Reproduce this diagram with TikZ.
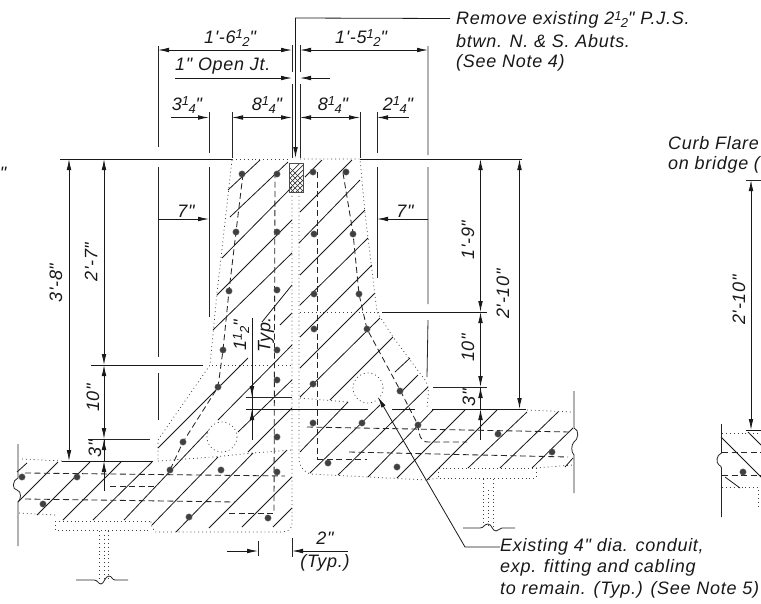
\documentclass[tikz,border=0pt]{standalone}
\usepackage{fontspec}
\usetikzlibrary{arrows.meta}
\newfontfamily\dfont{Liberation Sans}[LetterSpace=4]
\newcommand{\fr}[2]{{\fontsize{13}{13}\selectfont\raisebox{4.2pt}{#1}\hspace{-0.6pt}\raisebox{-3pt}{#2}}}
\tikzset{
  ar/.tip={Latex[length=11pt,width=4.6pt]},
  lab/.style={font=\dfont\itshape\fontsize{18}{18}\selectfont,inner sep=0pt,text=black!90},
  note/.style={lab,anchor=west},
  solid line/.style={line width=0.9pt,black!90},
  thin line/.style={line width=0.8pt,black!85},
  hatch/.style={line width=0.8pt,black!90},
  dotline/.style={line width=0.75pt,black!75,dash pattern=on 0.9pt off 3pt},
  dashline/.style={line width=0.85pt,black!85,dash pattern=on 6pt off 3.5pt},
  rebar/.style={fill=black!75,draw=black!60,line width=0.4pt},
  dimline/.style={line width=0.8pt,black!90},
}
\begin{document}
\begin{tikzpicture}[x=1pt,y=-1pt]
\clip (0,0) rectangle (761,603);
\fill[white] (0,0) rectangle (761,603);

% hatch lines, left and main section
\foreach \a/\b/\c/\d in {
 17/472/27/463, 18/502/58/462, 37/515/90/462, 63/520/121/462, 93/520/152/462,
 124/520/211/428, 218/420/292/345, 152/525/218/457, 238/432/292/380,
 176/532/253/453, 248/452/292/408, 209/528/287/450, 242/527/292/477, 273/527/292/508,
 228/190/260/160, 230/217/288/162, 222/258/292/187, 217/295/292/220, 213/330/292/253,
 262/322/292/285, 280/325/292/313, 158/448/248/358,
 305/177/322/160, 300/212/352/160, 299/243/360/180, 300/275/365/210, 300/305/368/238,
 300/337/372/265, 300/368/375/293, 300/397/380/318, 330/400/393/337,
 300/452/348/402, 395/372/410/358, 310/473/380/405, 400/393/418/375, 338/475/428/387,
 368/477/433/410, 397/478/465/410, 427/480/497/410, 468/468/527/412, 500/468/558/412,
 532/468/573/428, 565/467/573/458,
 748/432/761/445, 721/437/761/477, 725/477/740/488}
 {\draw[hatch] (\a,\b) -- (\c,\d);}

% crosshatch at joint
\begin{scope}
\clip (289,163) rectangle (303,192);
\foreach \k in {0,5,...,60}{
  \draw[line width=0.7pt,black!80] (275,163+\k-10) -- (310,163+\k+25);
  \draw[line width=0.7pt,black!80] (310,163+\k-10) -- (275,163+\k+25);
}
\end{scope}
\draw[line width=0.6pt,black!70] (289,163) rectangle (303,192);

% dotted concrete outlines
\draw[dotline] (232,160) -- (217,293) -- (210,365) -- (158,440) -- (158,459);
\draw[dotline] (22,459) -- (62,461);
\draw[dotline] (158,461) -- (213,457) -- (253,453) -- (292,450);
\draw[dotline] (232,159) -- (288,159);
\draw[dotline] (292,192) -- (292,523) .. controls (292,530) and (287,532) .. (280,532) -- (155,532) -- (151,525) -- (151,520);
\draw[dotline] (299,192) -- (299,460) .. controls (300,468) and (305,472) .. (310,474) -- (427,480) -- (438,478);
\draw[dotline] (212,365) -- (292,365);
\draw[dotline] (300,159) -- (360,159) -- (365,213) -- (377,312) -- (393,337) -- (425,380) .. controls (429,386) and (429,390) .. (427,408);
\draw[dotline] (300,398) -- (348,402);
\draw[dotline] (300,312) -- (382,312);
\draw[dotline] (527,410) -- (573,412);
\draw[dotline] (19,513) -- (55,515);
\draw[dotline] (55,521) -- (151,521);
\draw[dotline] (55,521) -- (55,530) -- (151,530);
\draw[dotline] (99,531) -- (99,580);
\draw[dotline] (108,531) -- (108,580);
\draw[dotline] (104,535) -- (104,578);
\draw[dotline] (438,468) -- (438,478) -- (536,478) -- (536,468) -- cycle;
\draw[dotline] (536,468) -- (573,465);
\draw[dotline] (483,479) -- (483,528);
\draw[dotline] (493,479) -- (493,528);
\draw[dotline] (488,490) -- (488,526);
\draw[dotline] (722,433) -- (761,433);
\draw[dotline] (722,487) -- (761,487);
\draw[dotline] (758,490) -- (758,506);

% conduits
\fill[white] (222,437) circle (15);
\draw[dotline] (222,437) circle (15);
\fill[white] (368,388) circle (15);
\draw[dotline] (368,388) circle (15);

% dashed bars
\foreach \a/\b/\c/\d in {
 25/473/285/476, 25/499/235/502, 110/486/157/486, 229/513/273/513, 307/427/570/432, 349/452/568/457,
 317/459/367/459, 722/452/761/452, 722/475/761/475}
 {\draw[dashline] (\a,\b) -- (\c,\d);}
\draw[dashline] (275,172) -- (274,513);
\draw[dashline] (317,172) -- (317,459);
\draw[dashline] (243,174) -- (236,232) -- (229,291) -- (223,350) -- (218,387) -- (183,442) -- (170,470);
\draw[dashline] (343,173) -- (353,233) -- (359,294) -- (367,329) -- (400,390) -- (418,425) .. controls (419,436) and (421,442) .. (428,442) -- (467,442);

% rebars
\foreach \a/\b in {242/174,277/174,313/172,346/172,236/232,277/232,314/234,353/234,
 229/291,277/290,314/294,359/294,223/350,277/350,314/329,367/329,218/387,183/442,170/470,
 221/470,277/380,277/437,277/472,268/518,189/517,77/477,22/477,43/504,313/384,313/423,
 362/423,400/391,418/425,328/463,397/467,498/434,552/452,743/472}
 {\filldraw[rebar] (\a,\b) circle (3.2);}

% ground lines
\draw[solid line] (60,159) -- (232,159);
\draw[solid line] (360,159) -- (522,159);
\draw[solid line] (62,461) -- (153,461);
\draw[solid line] (432,409) -- (526,409);
\draw[solid line] (280,409) -- (368,409);
\draw[solid line] (392,409) -- (415,409);
\draw[solid line] (246,409) -- (300,409);
\draw[thin line] (246,397) -- (292,397);
\draw[solid line] (91,365) -- (203,365);
\draw[solid line] (382,312) -- (487,312);
\draw[thin line] (88,439) -- (150,439);
\draw[thin line] (433,387) -- (487,387);

% extension lines
\draw[thin line] (158,46) -- (158,147) (158,167) -- (158,357) (158,373) -- (158,420);
\draw[thin line] (428,46) -- (428,155) (428,167) -- (428,304) (428,320) -- (427,377);
\draw[thin line] (292,45) -- (292,72) (292,84) -- (292,158);
\draw[thin line] (300,45) -- (300,72) (300,84) -- (300,158);
\draw[thin line] (209,112) -- (209,153) (209,167) -- (209,317);
\draw[thin line] (232,112) -- (232,158);
\draw[thin line] (360,112) -- (360,158);
\draw[thin line] (377,112) -- (377,153) (377,167) -- (377,278);

% horizontal dimensions
\draw[dimline,ar-ar] (158,50) -- (292,50);
\draw[dimline,ar-ar] (300,50) -- (428,50);
\draw[dimline,-ar] (175,78) -- (292,78);
\draw[dimline,-ar] (330,78) -- (300,78);
\draw[dimline,-ar] (171,117.5) -- (209,117.5);
\draw[dimline,ar-ar] (232,117.5) -- (292,117.5);
\draw[dimline,ar-ar] (300,117.5) -- (360,117.5);
\draw[dimline,-ar] (409,117.5) -- (377,117.5);
\draw[dimline,-ar] (158,219) -- (209,219);
\draw[dimline,-ar] (428,219) -- (377,219);
\draw[dimline,-ar] (227,551) -- (258,551);
\draw[dimline,-ar] (348,551) -- (292,551);
\draw[thin line] (258,541) -- (258,556);
\draw[thin line] (292,538) -- (292,557);

% vertical dimensions
\draw[dimline,ar-ar] (69,159) -- (69,461);
\draw[dimline,ar-ar] (104,159) -- (104,365);
\draw[dimline,ar-ar] (104,365) -- (104,439);
\draw[dimline,-ar] (104,491) -- (104,461);
\draw[dimline] (104,439) -- (104,461);
\draw[dimline,-ar] (104,452) -- (104,439);
\draw[dimline,ar-ar] (480.5,159) -- (480.5,312);
\draw[dimline,ar-ar] (480.5,312) -- (480.5,387);
\draw[dimline] (480.5,387) -- (480.5,409);
\draw[dimline,-ar] (480.5,400) -- (480.5,387);
\draw[dimline,-ar] (480.5,440) -- (480.5,409);
\draw[dimline,ar-ar] (519.5,159) -- (519.5,409);
\draw[dimline] (252,318) -- (252,440);
\draw[dimline,-ar] (252,380) -- (252,397);
\draw[dimline,-ar] (252,426) -- (252,409);
\draw[thin line] (746,180) -- (761,180);
\draw[dimline,ar-ar] (751,180) -- (751,430);
\draw[solid line] (746,430) -- (761,430);

% breaks
\draw[thin line] (18,444) -- (18,478) .. controls (12,480) and (12,490) .. (17,490) .. controls (22,491) and (21,500) .. (18,502) -- (18,546);
\draw[thin line] (76,580) -- (94,580) .. controls (98,580) and (98,584) .. (101,584) .. controls (104,584) and (105,576) .. (109,576) .. controls (112,576) and (112,580) .. (115,580) -- (128,580);
\draw[thin line] (574,391) -- (574,428) .. controls (580,430) and (578,440) .. (574,442) .. controls (571,445) and (571,452) .. (574,455) -- (574,493);
\draw[thin line] (463,528) -- (480,528) .. controls (484,528) and (484,524) .. (488,524) .. controls (492,524) and (492,531) .. (496,531) .. controls (499,531) and (499,528) .. (502,528) -- (515,528);
\draw[thin line] (721.5,424) -- (721.5,453) .. controls (716,455) and (716,463) .. (719,465) .. controls (722,466) and (722,470) .. (721.5,472) -- (721.5,517);

% leaders
\coordinate (jointtip) at (295.5,158);
\coordinate (jointtop) at (295.5,18);
\coordinate (conduittip) at (378,397);
\coordinate (conduitknee) at (465,547);
\node[note] (n1) at (456,19.5) {Remove existing 2\fr{1}{2}" P.J.S.};
\node[note] (n2) at (456,41) {btwn. N. \& S. Abuts.};
\node[note] (n3) at (456,63) {(See Note 4)};
\node[note] (c1) at (500,547) {Existing 4" dia. conduit,};
\node[note] (c2) at (500,568) {exp. fitting and cabling};
\node[note] (c3) at (500,590) {to remain. (Typ.) (See Note 5)};
\draw[dimline,-ar] ([xshift=-6pt,yshift=1pt]n1.west) -- (jointtop) -- (jointtip);
\draw[dimline,-ar] (c1.west) -- (conduitknee) -- (conduittip);

% labels
\node[lab] (d1) at (230,38) {1'-6\fr{1}{2}"};
\node[lab] (d2) at (361,38) {1'-5\fr{1}{2}"};
\node[lab,anchor=west] (d3) at (175,66) {1" Open Jt.};
\node[lab] (d4) at (187,105) {3\fr{1}{4}"};
\node[lab] (d5) at (267,105) {8\fr{1}{4}"};
\node[lab] (d6) at (333,105) {8\fr{1}{4}"};
\node[lab] (d7) at (398,105) {2\fr{1}{4}"};
\node[lab] (d8) at (186,211) {7"};
\node[lab] (d9) at (405,211) {7"};
\node[lab,rotate=90] (v1) at (56,283) {3'-8"};
\node[lab,rotate=90] (v2) at (91,262) {2'-7"};
\node[lab,rotate=90] (v3) at (93,398) {10"};
\node[lab,rotate=90] (v4) at (95,449) {3"};
\node[lab,rotate=90] (v5) at (241,335) {1\fr{1}{2}"};
\node[lab,rotate=90] (v6) at (266,335) {Typ.};
\node[lab,rotate=90] (v7) at (468,240) {1'-9"};
\node[lab,rotate=90] (v8) at (503,294) {2'-10"};
\node[lab,rotate=90] (v9) at (468,348) {10"};
\node[lab,rotate=90] (v10) at (469,398) {3"};
\node[lab,rotate=90] (v11) at (739,300) {2'-10"};
\node[lab] (t1) at (325,538) {2"};
\node[lab] (t2) at (325,563) {(Typ.)};
\node[lab,anchor=west] (f1) at (668,143) {Curb Flare};
\node[lab,anchor=west] (f2) at (668,165) {on bridge (};
\node[lab] (q) at (3,173) {"};
\end{tikzpicture}
\end{document}
